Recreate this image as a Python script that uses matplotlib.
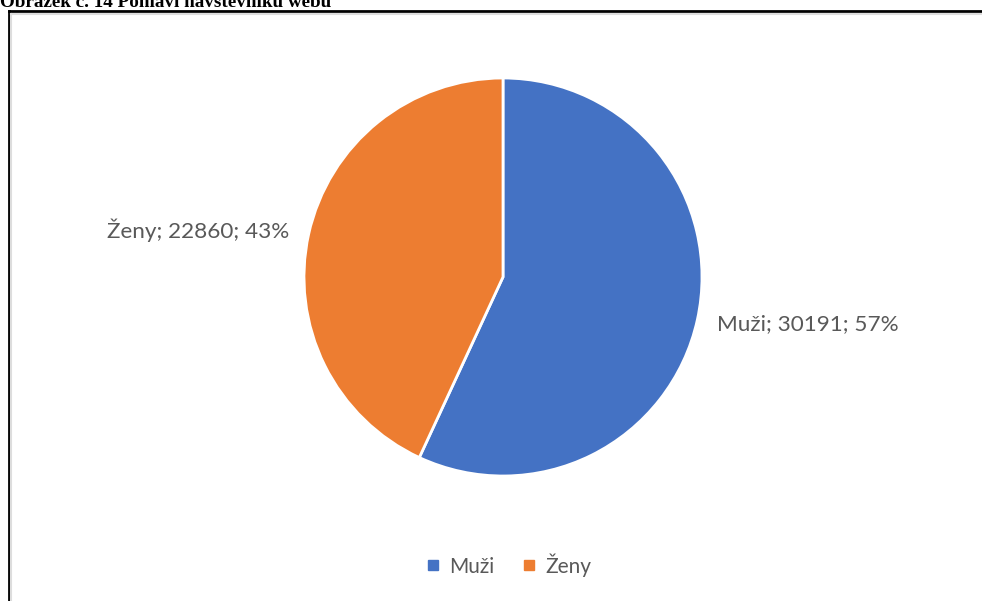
import matplotlib
matplotlib.use("Agg")
import matplotlib.pyplot as plt
from matplotlib.lines import Line2D

labels = ["Muži", "Ženy"]
values = [30191, 22860]
percents = [57, 43]
colors = ["#4472C4", "#ED7D31"]

W, H = 982, 601
fig = plt.figure(figsize=(W / 100, H / 100), dpi=100)

# caption (cut off at the top like in the source screenshot)
fig.text(0, 1 - 7 / H, "Obrázek č. 14 Pohlaví návštěvníků webu", family="Liberation Serif",
         fontweight="bold", fontsize=13.8, va="baseline", ha="left")

# frame of the chart
fig.add_artist(Line2D([8.5 / W, 1], [1 - 11 / H, 1 - 11 / H], color="black", lw=2))
fig.add_artist(Line2D([8.5 / W, 8.5 / W], [0, 1 - 11 / H], color="black", lw=2))
fig.add_artist(Line2D([11 / W, 1], [1 - 13.5 / H, 1 - 13.5 / H], color="#dddddd", lw=1.5))
fig.add_artist(Line2D([11 / W, 11 / W], [0, 1 - 13.5 / H], color="#dddddd", lw=1.5))

cx, cy, r = 503, 277, 199
ax = fig.add_axes([(cx - r) / W, 1 - (cy + r) / H, 2 * r / W, 2 * r / H])
texts = [f"{l}; {v}; {p}%" for l, v, p in zip(labels, values, percents)]
wedges, txt = ax.pie(values, labels=texts, colors=colors, startangle=90, counterclock=False,
                     labeldistance=1.1, radius=1,
                     wedgeprops=dict(edgecolor="white", linewidth=2),
                     textprops=dict(color="#595959", fontsize=16.2, family="Lato"))
ax.set_xlim(-1, 1)
ax.set_ylim(-1, 1)

handles = [Line2D([], [], marker="s", ls="", markersize=7, color=c) for c in colors]
fig.legend(handles, labels, loc="center", bbox_to_anchor=(509 / W, 1 - 565 / H), ncol=2,
           frameon=False, handlelength=0.6, handletextpad=0.45, columnspacing=1.4,
           prop=dict(family="Lato", size=15), labelcolor="#595959")

fig.savefig("out.png", dpi=100)
